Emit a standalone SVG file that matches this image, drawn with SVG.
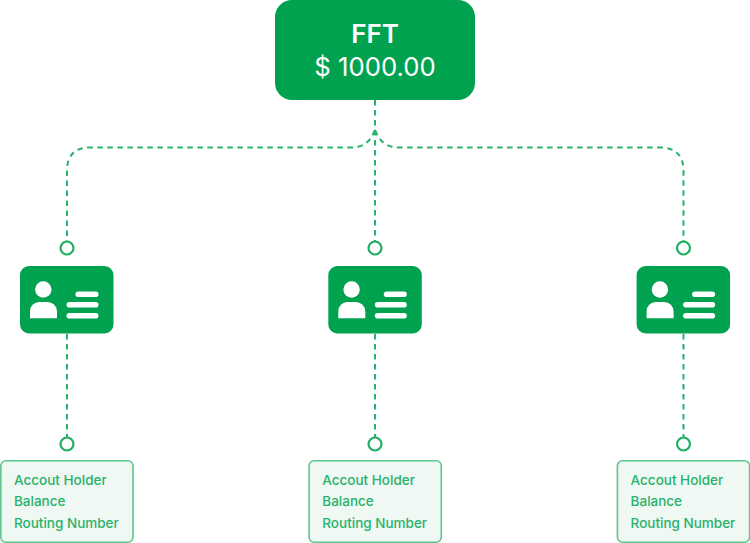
<svg xmlns="http://www.w3.org/2000/svg" width="750" height="543" viewBox="0 0 750 543">
<defs>
<style>
.c{fill:none;stroke:#27b26a;stroke-width:2;stroke-dasharray:5.500 4.500}
.o{fill:#fff;stroke:#1fae62;stroke-width:2.200}
.card{fill:#00a250}
.w{fill:#fff}
.info{fill:#eff8f3;stroke:#5cc68f;stroke-width:1.600}
.t{font-family:Inter,"Liberation Sans",sans-serif;font-size:13.500px;font-weight:500;fill:#27b26a}
.h{font-family:Inter,"Liberation Sans",sans-serif;fill:#fff;text-anchor:middle}
</style>
<g id="card"><rect class="card" x="20" y="266" width="93.500" height="67.500" rx="9"/><circle class="w" cx="43.300" cy="289.500" r="8.200"/><path class="w" d="M30 318.200V311a9 9 0 0 1 9-9h8.500a9.500 9.500 0 0 1 9.500 9.500v6.700z"/><rect class="w" x="75.500" y="291.500" width="23" height="5.600" rx="2.800"/><rect class="w" x="66.500" y="302" width="32" height="5.600" rx="2.800"/><rect class="w" x="66.500" y="313" width="32" height="5.600" rx="2.800"/></g>
<g id="info"><rect class="info" x="0.800" y="460.800" width="132.200" height="81.400" rx="5"/></g>
</defs>
<g id="connectors">
<path class="c" d="M375 100V248"/>
<path class="c" d="M375 130C370 142 364 147.500 350 147.500H90Q67 147.500 67 171V241"/>
<path class="c" d="M375 130C380 142 386 147.500 400 147.500H660Q683.500 147.500 683.500 171V241"/>
<path class="c" d="M67 334V437M375 334V437M683.500 334V437"/>
<circle class="o" cx="67" cy="248" r="6.500"/><circle class="o" cx="375" cy="248" r="6.500"/><circle class="o" cx="683.500" cy="248" r="6.500"/>
<circle class="o" cx="67" cy="444" r="6.500"/><circle class="o" cx="375" cy="444" r="6.500"/><circle class="o" cx="683.500" cy="444" r="6.500"/>
</g>
<g id="fft"><rect class="card" x="275" y="0" width="200" height="100" rx="17"/><text class="h" x="375" y="43" font-size="26" font-weight="600">FFT</text><text class="h" x="375" y="76" font-size="25.700">$ 1000.00</text></g>
<g id="card-1"><use href="#card"/></g>
<g id="card-2"><use href="#card" x="308.300"/></g>
<g id="card-3"><use href="#card" x="616.600"/></g>
<g id="info-1"><use href="#info"/><text class="t" x="14" y="484.500">Accout Holder</text><text class="t" x="14" y="506">Balance</text><text class="t" x="14" y="527.500">Routing Number</text></g>
<g id="info-2"><use href="#info" x="308.300"/><text class="t" x="322.300" y="484.500">Accout Holder</text><text class="t" x="322.300" y="506">Balance</text><text class="t" x="322.300" y="527.500">Routing Number</text></g>
<g id="info-3"><use href="#info" x="616.600"/><text class="t" x="630.600" y="484.500">Accout Holder</text><text class="t" x="630.600" y="506">Balance</text><text class="t" x="630.600" y="527.500">Routing Number</text></g>
</svg>
